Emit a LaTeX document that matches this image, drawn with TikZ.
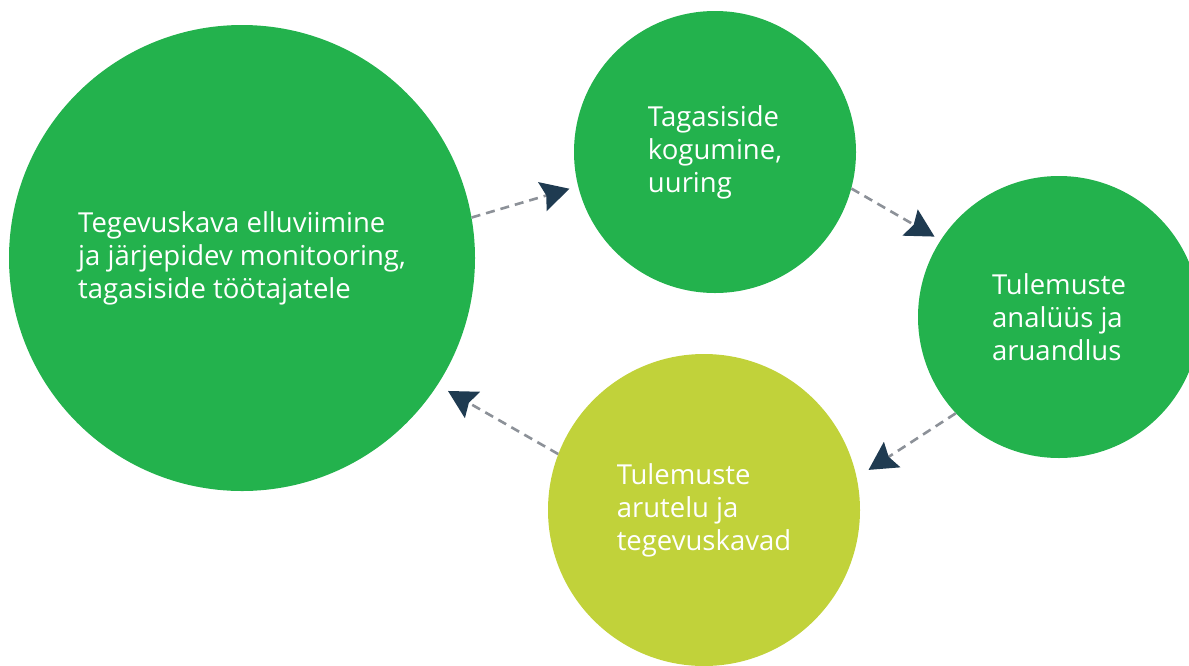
\documentclass[tikz,border=0pt]{standalone}
\usepackage{fontspec}
\setmainfont{Open Sans}
\usepackage{tikz}
\usetikzlibrary{arrows.meta, positioning}
\definecolor{colorVerde}{HTML}{23B24D}
\definecolor{colorLima}{HTML}{C1D23A}
\definecolor{colorFlecha}{HTML}{1F3B51}
\definecolor{colorTrazo}{HTML}{8C9198}

\begin{document}
\begin{tikzpicture}[x=1pt, y=-1pt,
        c/.style={circle, draw=none, fill=colorVerde, inner sep=0pt, align=left,
            text=white, font=\fontsize{27.5}{33}\selectfont},
        rel/.style={-{Stealth[length=28pt, width=30pt, inset=4pt, color=colorFlecha]},
            colorTrazo, line width=2.6pt, dash pattern=on 9pt off 6pt}
    ]
        \useasboundingbox (0,0) rectangle (1189,665);
        \node[c, minimum size=466pt] (a) at (242,258) {Tegevuskava elluviimine\\ja järjepidev monitooring,\\tagasiside töötajatele};
        \node[c, minimum size=282pt] (b) at (715,152) {Tagasiside\\kogumine,\\uuring};
        \node[c, minimum size=282pt] (d) at (1059,317) {Tulemuste\\analüüs ja\\aruandlus};
        \node[c, fill=colorLima, minimum size=312pt] (e) at (704,510) {Tulemuste\\arutelu ja\\tegevuskavad};
        \draw[rel, shorten >=9pt] (a.10) -- (b.194);
        \draw[rel, shorten >=7pt] (b.-15) -- (d.147);
        \draw[rel, shorten >=14pt] (d.223) -- (e.12);
        \draw[rel, shorten >=12pt] (e.159) -- (a.-33);
    \end{tikzpicture}
\end{document}
